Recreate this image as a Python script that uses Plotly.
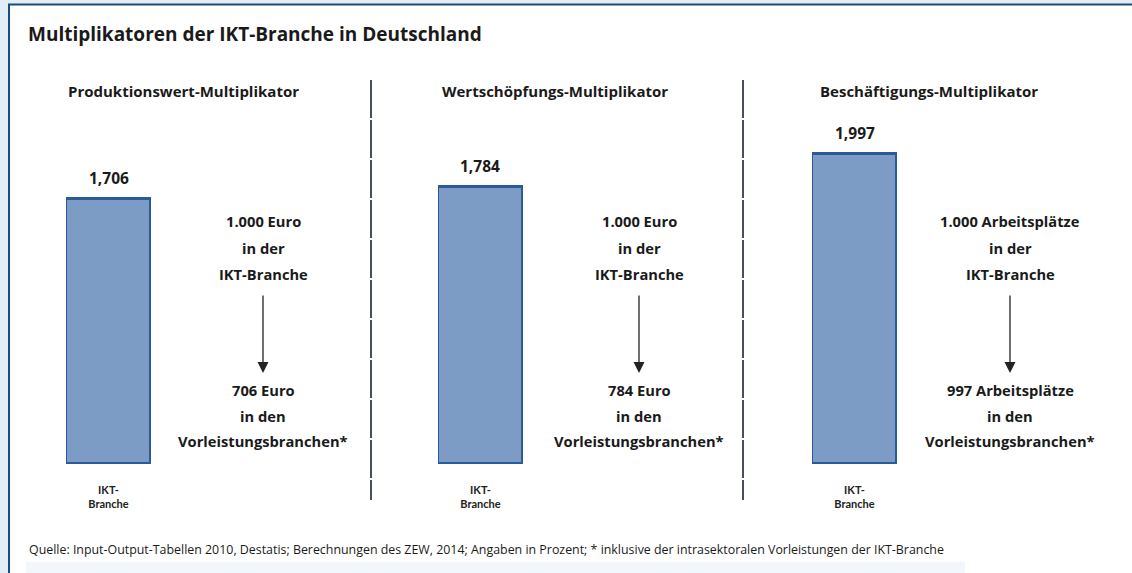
import plotly.graph_objects as go
from plotly.subplots import make_subplots

# Daten
panel_titles = ["Produktionswert-Multiplikator", "Wertschöpfungs-Multiplikator", "Beschäftigungs-Multiplikator"]
category = ["IKT-<br>Branche"]
multipliers = [1.706, 1.784, 1.997]
units = ["Euro", "Euro", "Arbeitsplätze"]
base_amount = ["1.000", "1.000", "1.000"]
induced_amount = [706, 784, 997]

W, H = 1132, 573
px = lambda v: v / W            # x in Pixel -> paper
py = lambda v: 1 - v / H        # y in Pixel -> paper

bar_left = [66, 438, 812]       # linke Kante der Balken (Pixel)
bar_w = 85
text_cx = [263, 639, 1010]
title_cx = [183, 555, 929]
FONT = "Open Sans"
INK = "#1a1a1a"

fig = make_subplots(rows=1, cols=3)

for i, v in enumerate(multipliers):
    fig.add_trace(go.Bar(
        x=category, y=[v], width=[1],
        marker=dict(color="#7c9cc6", line=dict(color="#2a5a97", width=3)),
        showlegend=False, hoverinfo="skip"), row=1, col=i + 1)

y_zero, y_top = 464, 80
unit_px = 155.3
ymax = (y_zero - y_top) / unit_px


def label(x, y, text, size=14, anchor="center"):
    fig.add_annotation(x=x, y=y, xref="paper", yref="paper", text=text,
                       xanchor=anchor, yanchor="middle", showarrow=False,
                       font=dict(family=FONT, size=size, color=INK))


for i in range(3):
    n = "" if i == 0 else str(i + 1)
    fig.layout["xaxis" + n].update(
        domain=[px(bar_left[i]), px(bar_left[i] + bar_w)], range=[-0.5, 0.5],
        showgrid=False, zeroline=False, showline=False, ticks="",
        tickfont=dict(family="Lato", size=11, color="#222", weight="bold"), ticklabelstandoff=18)
    fig.layout["yaxis" + n].update(
        domain=[py(y_zero), py(y_top)], range=[0, ymax],
        showgrid=False, zeroline=False, showticklabels=False, showline=False)

    # Wert über dem Balken
    fig.add_annotation(x=0, y=multipliers[i], xref="x" + n, yref="y" + n,
                       text="<b>" + f"{multipliers[i]:.3f}".replace(".", ",") + "</b>",
                       xanchor="center", yanchor="middle", showarrow=False, yshift=21,
                       font=dict(family=FONT, size=15.5, color=INK))
    # Paneltitel
    label(px(title_cx[i]), py(91), "<b>" + panel_titles[i] + "</b>", size=15)
    # Erläuterung rechts
    lines_top = [f"{base_amount[i]} {units[i]}", "in der", "IKT-Branche"]
    lines_bot = [f"{induced_amount[i]} {units[i]}", "in den", "Vorleistungsbranchen*"]
    for yy, t in zip([221, 248, 274], lines_top):
        label(px(text_cx[i]), py(yy), "<b>" + t + "</b>", size=14.7)
    for yy, t in zip([390, 416, 441], lines_bot):
        label(px(text_cx[i]), py(yy), "<b>" + t + "</b>", size=14.7)
    # Pfeil
    fig.add_annotation(x=px(text_cx[i]), y=py(373), xref="paper", yref="paper",
                       ax=0, ay=-79, text="", showarrow=True,
                       arrowhead=2, arrowsize=1.7, arrowwidth=1.3, arrowcolor="#222")

# Trennlinien
for xd in [371, 743]:
    fig.add_shape(type="line", xref="paper", yref="paper",
                  x0=px(xd), x1=px(xd), y0=py(80), y1=py(500),
                  line=dict(color="#4a4f5c", width=2, dash="38px,2px"))

# Karte mit Rahmen
fig.add_shape(type="rect", xref="paper", yref="paper", layer="below",
              x0=px(9), x1=px(1145), y0=py(590), y1=py(4.5),
              fillcolor="white", line=dict(color="#1d4b7c", width=2))
fig.add_shape(type="rect", xref="paper", yref="paper", layer="below",
              x0=px(26), x1=px(965), y0=py(580), y1=py(562),
              fillcolor="#f1f7fd", line=dict(width=0))

label(px(26), py(34), "<b>Multiplikatoren der IKT-Branche in Deutschland</b>", size=19, anchor="left")
label(px(27), py(549),
      "Quelle: Input-Output-Tabellen 2010, Destatis; Berechnungen des ZEW, 2014; "
      "Angaben in Prozent; * inklusive der intrasektoralen Vorleistungen der IKT-Branche",
      size=12.4, anchor="left")

fig.update_layout(
    width=W, height=H,
    margin=dict(l=0, r=0, t=0, b=0),
    paper_bgcolor="#e2edf6", plot_bgcolor="rgba(0,0,0,0)",
    bargap=0,
)
fig.write_html("out.html", config={"displayModeBar": False},
               post_script="document.body.style.margin='0px';")
